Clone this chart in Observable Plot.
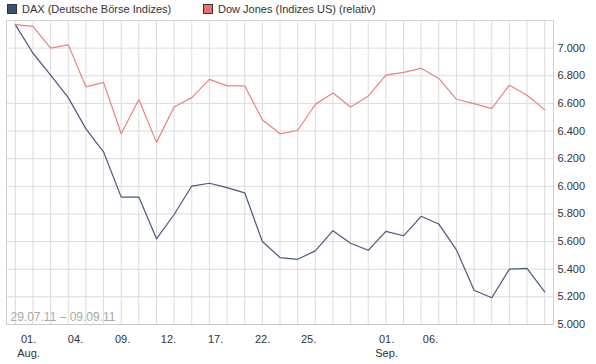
<!DOCTYPE html>
<html><head><meta charset="utf-8">
<script src="https://cdn.jsdelivr.net/npm/d3@7"></script>
<script src="https://cdn.jsdelivr.net/npm/@observablehq/plot@0.6"></script>
<style>
body{margin:0;background:#fff;font-family:"Liberation Sans",Arial,sans-serif;}
#legend{height:20px;position:relative;font-size:11px;color:#333;}
.item{position:absolute;top:3px;display:flex;align-items:center;}
.sw{width:8px;height:8px;border:1px solid #333;margin-right:5px;}
</style></head>
<body>
<div id="legend"></div>
<div id="chart"></div>
<script>
const seriesNames = ["DAX (Deutsche Börse Indizes)", "Dow Jones (Indizes US) (relativ)"];
const seriesColors = ["#4a5880", "#f08080"];
const swatchColors = ["#3e4f78", "#f26d6d"];
const dax = [7170, 6963, 6805, 6642, 6416, 6250, 5922, 5922, 5620, 5796, 6002, 6022, 5990, 5953, 5601, 5484, 5472, 5533, 5679, 5588, 5537, 5674, 5642, 5783, 5727, 5540, 5248, 5194, 5401, 5406, 5236];
const dow = [7170, 7158, 7000, 7024, 6720, 6752, 6380, 6628, 6318, 6574, 6642, 6774, 6727, 6727, 6482, 6380, 6404, 6593, 6676, 6574, 6652, 6805, 6825, 6854, 6781, 6630, 6598, 6562, 6732, 6659, 6555];
const tickLabels = ["01.\nAug.", "04.", "09.", "12.", "17.", "22.", "25.", "01.\nSep.", "06."];
const tickPos = [0.75, 3.41, 6.08, 8.68, 11.35, 14.01, 16.62, 21.04, 23.53];
const yTicks = [5000, 5200, 5400, 5600, 5800, 6000, 6200, 6400, 6600, 6800, 7000];
const caption = "29.07.11 – 09.09.11";

const legend = document.getElementById("legend");
const lx = [7, 203];
seriesNames.forEach((n, i) => {
  const d = document.createElement("div");
  d.className = "item"; d.style.left = lx[i] + "px";
  d.innerHTML = `<span class="sw" style="background:${swatchColors[i]}"></span><span>${n}</span>`;
  legend.appendChild(d);
});

const idx = dax.map((_, i) => i);
const data = [
  ...dax.map((v, i) => ({i, v, s: seriesNames[0]})),
  ...dow.map((v, i) => ({i, v, s: seriesNames[1]}))
];

const chart = Plot.plot({
  width: 596, height: 344,
  marginTop: 0, marginBottom: 40, marginLeft: 6, marginRight: 43,
  style: {fontFamily: "'Liberation Sans', Arial, sans-serif", fontSize: "11px", color: "#333"},
  x: {domain: [-0.5, 30.5], axis: null, label: null},
  y: {domain: [5000, 7200], axis: null, label: null},
  marks: [
    Plot.ruleX(idx, {stroke: "#dcdcdc", strokeWidth: 1}),
    Plot.ruleY(yTicks, {stroke: "#dcdcdc", strokeWidth: 1}),
    Plot.frame({stroke: "#d0d0d0"}),
    Plot.ruleY([5000], {stroke: "#c8c8c8"}),
    Plot.axisY({ticks: yTicks, anchor: "right", label: null, tickSize: 0, tickPadding: 4, tickFormat: d => d3.format(",")(d).replace(/,/g, "."), fill: "#333", fontSize: 11}),
    Plot.axisX({ticks: tickPos, anchor: "bottom", label: null, tickSize: 0, tickPadding: 9, tickFormat: (d, k) => tickLabels[k], fill: "#333", fontSize: 11, lineHeight: 1.25}),
    Plot.line(data, {x: "i", y: "v", z: "s", stroke: "s", strokeWidth: 1.2}),
    Plot.text([caption], {frameAnchor: "bottom-left", dx: 4, dy: -4, fill: "#a8a8a8", fontSize: 12, textAnchor: "start"})
  ],
  color: {domain: seriesNames, range: seriesColors}
});
document.getElementById("chart").appendChild(chart);
</script>
</body></html>
